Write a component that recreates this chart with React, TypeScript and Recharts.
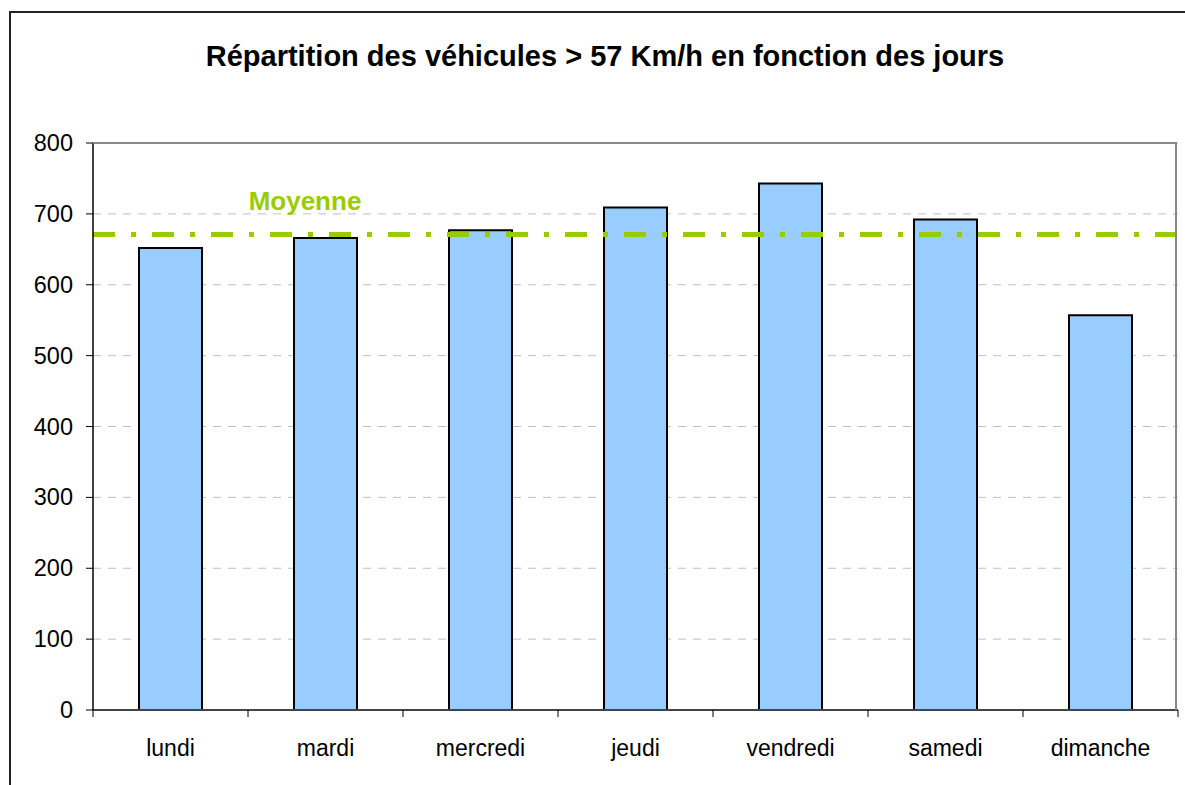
import { BarChart, Bar, XAxis, YAxis, CartesianGrid, ReferenceLine } from "recharts";

const jours = ["lundi", "mardi", "mercredi", "jeudi", "vendredi", "samedi", "dimanche"];
const vehicules = [652, 666, 677, 709, 743, 692, 557];
const moyenne = 671;
const yTicks = [0, 100, 200, 300, 400, 500, 600, 700, 800];

const data = jours.map((jour, i) => ({ jour, vehicules: vehicules[i] }));

const FONT = "'Liberation Sans', Arial, sans-serif";
const HALF_BAND = 1085 / jours.length / 2;

function DayTick(props: any) {
  const { x, y, payload, index } = props;
  return (
    <g>
      <line x1={x - HALF_BAND} y1={y} x2={x - HALF_BAND} y2={y + 7} stroke="#000" strokeWidth={1} />
      {index === jours.length - 1 && (
        <line x1={x + HALF_BAND} y1={y} x2={x + HALF_BAND} y2={y + 7} stroke="#000" strokeWidth={1} />
      )}
      <text x={x} y={y + 46} textAnchor="middle" fontSize={23} fontFamily={FONT} fill="#000">
        {payload.value}
      </text>
    </g>
  );
}

function ValueTick(props: any) {
  const { x, y, payload } = props;
  return (
    <text x={x} y={y + 8} textAnchor="end" fontSize={23.5} fontFamily={FONT} fill="#000">
      {payload.value}
    </text>
  );
}

function MoyenneLabel(props: any) {
  const { viewBox } = props;
  return (
    <text
      x={viewBox.x + 212}
      y={viewBox.y - 24}
      textAnchor="middle"
      fontSize={26}
      fontWeight="bold"
      fontFamily={FONT}
      fill="#99cc00"
    >
      Moyenne
    </text>
  );
}

export default function App() {
  return (
    <div style={{ position: "absolute", left: 0, top: 0, width: 1185, height: 785, background: "#fff", overflow: "hidden" }}>
      <div
        style={{
          position: "absolute",
          left: 9,
          top: 11,
          width: 1185,
          height: 785,
          borderLeft: "2px solid #222",
          borderTop: "2px solid #222",
        }}
      />
      <div
        style={{
          position: "absolute",
          left: 0,
          top: 40,
          width: 1210,
          textAlign: "center",
          fontFamily: FONT,
          fontWeight: "bold",
          fontSize: 29,
          color: "#000",
        }}
      >
        Répartition des véhicules &gt; 57 Km/h en fonction des jours
      </div>
      <BarChart width={1185} height={785} data={data} margin={{ top: 143, right: 7, left: 0, bottom: 0 }}>
        <CartesianGrid vertical={false} stroke="#c0c0c0" strokeDasharray="8 7" />
        <XAxis
          dataKey="jour"
          height={75}
          tickLine={false}
          tickSize={0}
          tickMargin={0}
          axisLine={{ stroke: "#444", strokeWidth: 2 }}
          tick={<DayTick />}
          interval={0}
        />
        <YAxis
          width={93}
          domain={[0, 800]}
          ticks={yTicks}
          tickSize={7}
          tickMargin={13}
          tickLine={{ stroke: "#000" }}
          axisLine={{ stroke: "#000", strokeWidth: 1.5 }}
          tick={<ValueTick />}
        />
        <Bar dataKey="vehicules" fill="#99ccff" stroke="#000" strokeWidth={2} barSize={63} isAnimationActive={false} />
        <ReferenceLine
          y={moyenne}
          stroke="#99cc00"
          strokeWidth={5}
          strokeDasharray="22 16 5 16"
          label={<MoyenneLabel />}
        />
      </BarChart>
      <div
        style={{
          position: "absolute",
          left: 93,
          top: 142,
          width: 1084,
          height: 568,
          borderTop: "2px solid #888",
          borderRight: "2px solid #888",
          pointerEvents: "none",
          boxSizing: "border-box",
        }}
      />
    </div>
  );
}
